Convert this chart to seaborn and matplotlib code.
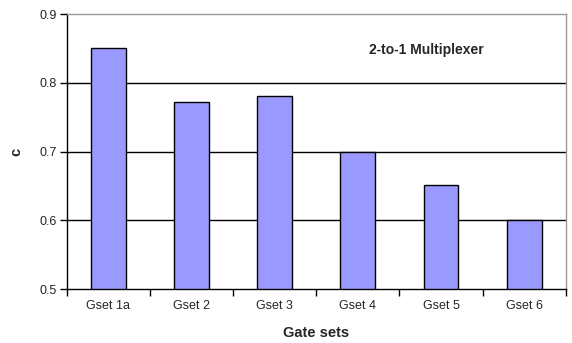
import matplotlib
matplotlib.use('Agg')
import matplotlib.pyplot as plt
import numpy as np
import pandas as pd
import seaborn as sns

gate_sets = ['Gset 1a', 'Gset 2', 'Gset 3', 'Gset 4', 'Gset 5', 'Gset 6']
c_values = [0.85, 0.772, 0.781, 0.70, 0.651, 0.60]

df = pd.DataFrame({'gate_set': gate_sets, 'c': c_values})

sns.set_style('white')
plt.rcParams['font.family'] = ['Liberation Sans', 'DejaVu Sans']

fig = plt.figure(figsize=(5.72, 3.43), dpi=100)
ax = fig.add_axes([0.117, 0.157, 0.872, 0.802])

# black gridlines behind bars
for y in [0.6, 0.7, 0.8]:
    ax.axhline(y, color='black', linewidth=1, zorder=0)

sns.barplot(data=df, x='gate_set', y='c', color='#9999FF', width=0.42,
            edgecolor='black', linewidth=1, saturation=1, ax=ax, zorder=2)

ax.set_ylim(0.5, 0.9)
ax.set_xlim(-0.5, len(gate_sets) - 0.5)
ax.set_yticks([0.5, 0.6, 0.7, 0.8, 0.9])
ax.set_yticklabels(['0.5', '0.6', '0.7', '0.8', '0.9'])

# x ticks between categories
ax.set_xticks(np.arange(-0.5, len(gate_sets)), minor=True)
ax.tick_params(axis='x', which='major', length=0, pad=8, labelsize=9)
ax.tick_params(axis='x', which='minor', length=5, width=1, color='black', direction='out', bottom=True)
ax.tick_params(axis='y', length=5, width=1, color='black', direction='out', left=True, labelsize=9, pad=2)

for side in ['left', 'bottom']:
    ax.spines[side].set_color('black')
    ax.spines[side].set_linewidth(1)
for side in ['top', 'right']:
    ax.spines[side].set_color('#999999')
    ax.spines[side].set_linewidth(1)

ax.set_xlabel('Gate sets', fontsize=10.5, fontweight='bold', labelpad=10)
ax.set_ylabel('c', fontsize=10.5, fontweight='bold', labelpad=12)

ax.text(0.72, 0.87, '2-to-1 Multiplexer', transform=ax.transAxes,
        ha='center', va='center', fontsize=10, fontweight='bold')

fig.savefig('out.png', dpi=100)
